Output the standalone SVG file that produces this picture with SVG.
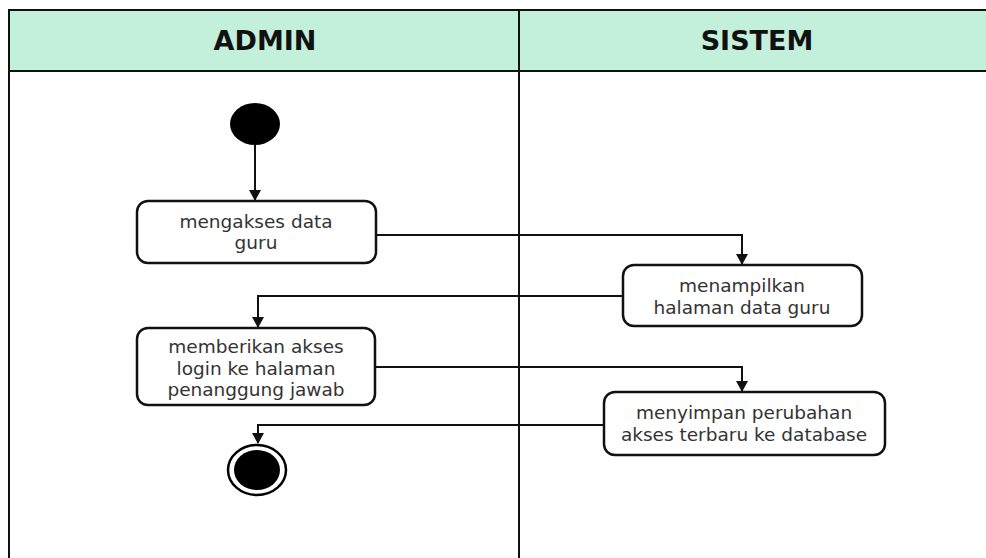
<svg xmlns="http://www.w3.org/2000/svg" width="986" height="558" viewBox="0 0 986 558">
<style>
.lane{stroke:#111;stroke-width:2;fill:none}
.hdr{font-family:"DejaVu Sans","Liberation Sans",sans-serif;font-weight:bold;font-size:27px;fill:#111;text-anchor:middle}
.box{fill:#fff;stroke:#111;stroke-width:2.5}
.t{font-family:"DejaVu Sans","Liberation Sans",sans-serif;font-size:18.5px;fill:#333;text-anchor:middle}
.c{stroke:#111;stroke-width:2;fill:none;marker-end:url(#ah)}
</style>
<defs>
<marker id="ah" markerWidth="12" markerHeight="12" refX="10" refY="6" orient="auto" markerUnits="userSpaceOnUse">
<path d="M0,0 L11,6 L0,12 Z" fill="#111"/>
</marker>
</defs>
<rect x="0" y="0" width="986" height="558" fill="#fff"/>
<g id="lanes">
<rect x="9" y="10" width="990" height="61" fill="#c2f0da"/>
<path class="lane" d="M9,558 V10 H986 M9,71 H986 M519,10 V558"/>
<text class="hdr" x="265" y="50">ADMIN</text>
<text class="hdr" x="757" y="50">SISTEM</text>
</g>
<g id="connectors">
<path class="c" d="M255,145 V200"/>
<path class="c" d="M376,235 H742 V264"/>
<path class="c" d="M623,296 H258 V327"/>
<path class="c" d="M375,367 H742 V391"/>
<path class="c" d="M604,425 H258 V443"/>
</g>
<g id="start"><ellipse cx="255" cy="124" rx="25" ry="21" fill="#000"/></g>
<g id="n1">
<rect class="box" x="137" y="201" width="239" height="62" rx="11"/>
<text class="t" x="256" y="228">mengakses data</text>
<text class="t" x="256" y="249">guru</text>
</g>
<g id="n2">
<rect class="box" x="623" y="265" width="239" height="61" rx="11"/>
<text class="t" x="742" y="292">menampilkan</text>
<text class="t" x="742" y="314">halaman data guru</text>
</g>
<g id="n3">
<rect class="box" x="137" y="328" width="238" height="77" rx="11"/>
<text class="t" x="256" y="353">memberikan akses</text>
<text class="t" x="256" y="375">login ke halaman</text>
<text class="t" x="256" y="396">penanggung jawab</text>
</g>
<g id="n4">
<rect class="box" x="604" y="392" width="281" height="63" rx="11"/>
<text class="t" x="744" y="419">menyimpan perubahan</text>
<text class="t" x="744" y="441">akses terbaru ke database</text>
</g>
<g id="end">
<ellipse cx="257" cy="470" rx="29" ry="25" fill="#fff" stroke="#000" stroke-width="2.5"/>
<ellipse cx="257" cy="470" rx="23" ry="20" fill="#000"/>
</g>
</svg>
